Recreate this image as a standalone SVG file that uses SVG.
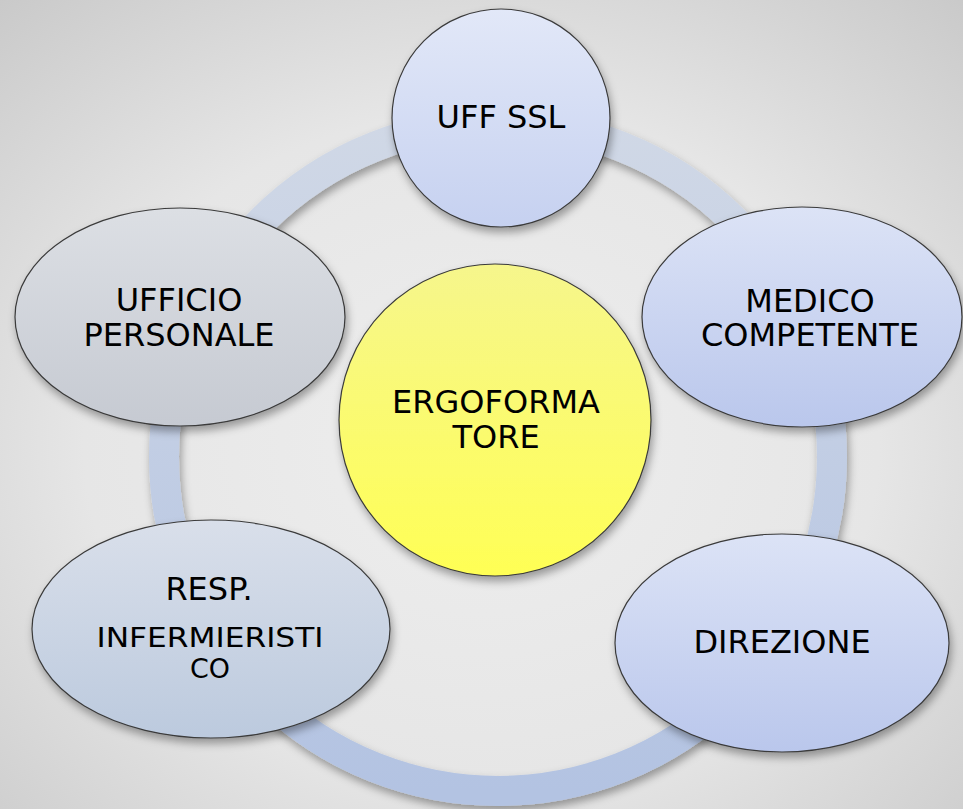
<svg xmlns="http://www.w3.org/2000/svg" width="963" height="809" viewBox="0 0 963 809">
<defs>
<radialGradient id="bg" cx="0.5" cy="0.55" r="0.75">
<stop offset="0" stop-color="#eeeeee"/>
<stop offset="0.55" stop-color="#e6e6e6"/>
<stop offset="1" stop-color="#c9c9c9"/>
</radialGradient>
<linearGradient id="ring" x1="0" y1="0" x2="0" y2="1">
<stop offset="0" stop-color="#d0d8e6"/>
<stop offset="1" stop-color="#b3c3e2"/>
</linearGradient>
<linearGradient id="gBlue" x1="0" y1="0" x2="0" y2="1">
<stop offset="0" stop-color="#e2e8f8"/>
<stop offset="1" stop-color="#c6d1f0"/>
</linearGradient>
<linearGradient id="gBlue2" x1="0" y1="0" x2="0" y2="1">
<stop offset="0" stop-color="#dce3f6"/>
<stop offset="1" stop-color="#bac7ec"/>
</linearGradient>
<linearGradient id="gGray" x1="0" y1="0" x2="0" y2="1">
<stop offset="0" stop-color="#dcdfe4"/>
<stop offset="1" stop-color="#c6cad2"/>
</linearGradient>
<linearGradient id="gSlate" x1="0" y1="0" x2="0" y2="1">
<stop offset="0" stop-color="#d9dfea"/>
<stop offset="1" stop-color="#bccade"/>
</linearGradient>
<linearGradient id="gYellow" x1="0" y1="0" x2="0" y2="1">
<stop offset="0" stop-color="#f6f68c"/>
<stop offset="1" stop-color="#ffff55"/>
</linearGradient>
<filter id="sh" x="-20%" y="-20%" width="140%" height="150%">
<feDropShadow dx="2" dy="5" stdDeviation="4" flood-color="#000" flood-opacity="0.35"/>
</filter>
</defs>
<style>
.node { stroke: #3a3a3a; stroke-width: 1.2; filter: url(#sh); }
.lbl { font-family: "DejaVu Sans", Verdana, sans-serif; font-size: 32px; fill: #000; text-anchor: middle; }
.sm { font-size: 26px; }
</style>
<rect x="0" y="0" width="963" height="809" fill="url(#bg)"/>
<g id="connectors">
<circle cx="498" cy="457" r="334" fill="none" stroke="url(#ring)" stroke-width="30" filter="url(#sh)"/>
</g>
<g id="center">
<circle class="node" cx="495" cy="420" r="156" fill="url(#gYellow)"/>
<text class="lbl" x="496" y="413">ERGOFORMA</text>
<text class="lbl" x="496" y="448">TORE</text>
</g>
<g id="uff-ssl">
<circle class="node" cx="501" cy="118" r="109" fill="url(#gBlue)"/>
<text class="lbl" x="501" y="128">UFF SSL</text>
</g>
<g id="medico">
<ellipse class="node" cx="802" cy="317" rx="160" ry="110" fill="url(#gBlue2)"/>
<text class="lbl" x="810" y="312">MEDICO</text>
<text class="lbl" x="810" y="346">COMPETENTE</text>
</g>
<g id="direzione">
<ellipse class="node" cx="782" cy="643" rx="167" ry="109" fill="url(#gBlue2)"/>
<text class="lbl" x="782" y="653">DIREZIONE</text>
</g>
<g id="resp">
<ellipse class="node" cx="211" cy="629" rx="179" ry="109" fill="url(#gSlate)"/>
<text class="lbl" x="209" y="600">RESP.</text>
<text class="lbl sm" x="210" y="647" textLength="227" lengthAdjust="spacingAndGlyphs">INFERMIERISTI</text>
<text class="lbl sm" x="210" y="678" textLength="40" lengthAdjust="spacingAndGlyphs">CO</text>
</g>
<g id="ufficio">
<ellipse class="node" cx="180" cy="317" rx="165" ry="109" fill="url(#gGray)"/>
<text class="lbl" x="179" y="311">UFFICIO</text>
<text class="lbl" x="179" y="346">PERSONALE</text>
</g>
</svg>
